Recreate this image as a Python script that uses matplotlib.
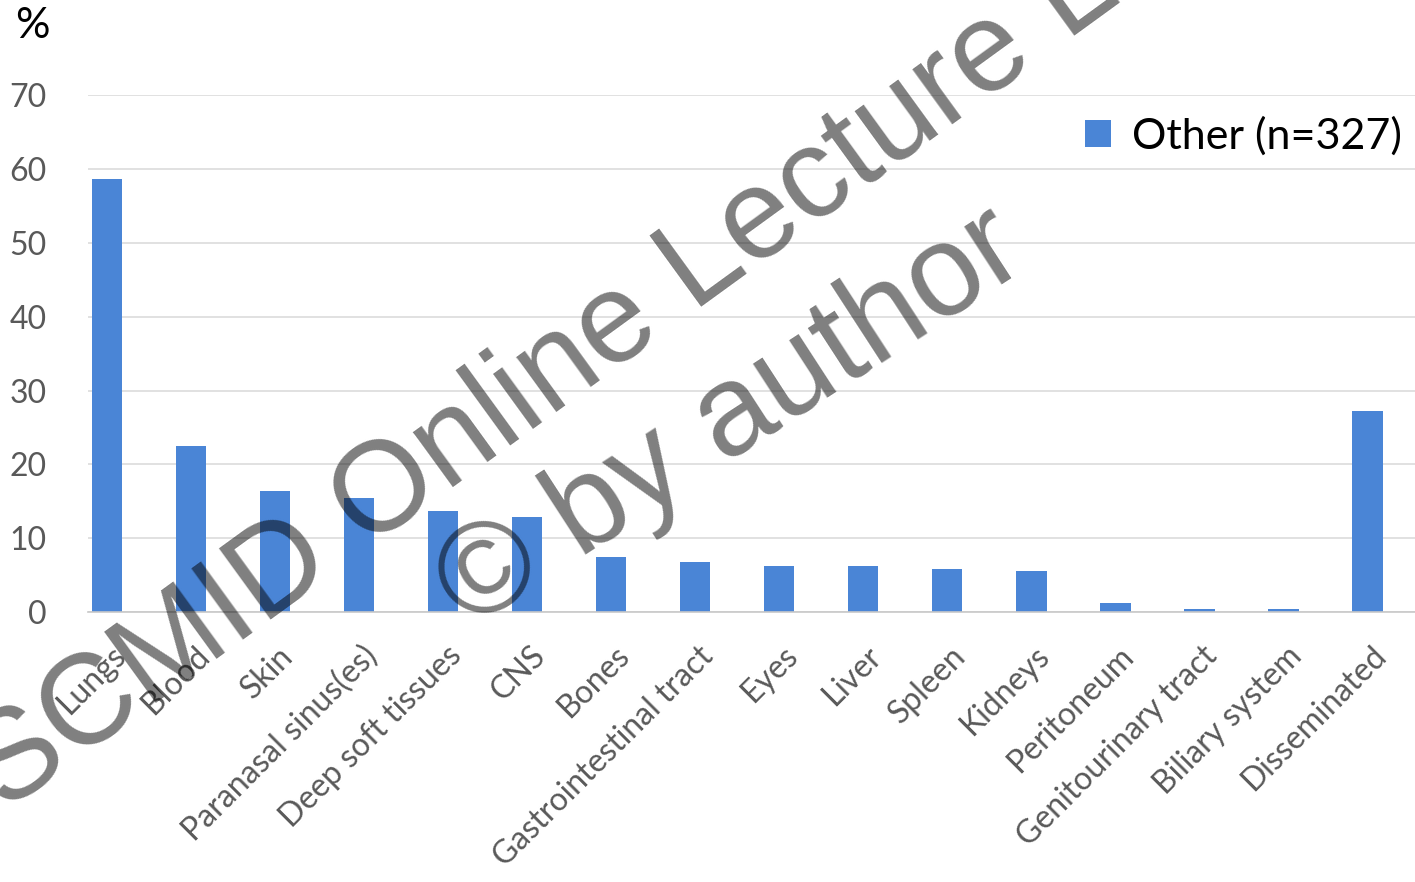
import matplotlib.pyplot as plt
import matplotlib.transforms as mtransforms
import numpy as np

sites = [
    "Lungs", "Blood", "Skin", "Paranasal sinus(es)", "Deep soft tissues",
    "CNS", "Bones", "Gastrointestinal tract", "Eyes", "Liver", "Spleen",
    "Kidneys", "Peritoneum", "Genitourinary tract", "Biliary system",
    "Disseminated",
]
other_pct = [58.7, 22.5, 16.4, 15.4, 13.7, 12.9, 7.4, 6.8, 6.2, 6.2, 5.8,
             5.5, 1.2, 0.4, 0.4, 27.2]
series_label = "Other (n=327)"
y_ticks = [0, 10, 20, 30, 40, 50, 60, 70]

BAR = "#4a85d6"
GRID = "#d9d9d9"
TICK = "#595959"
FONT = "Lato"

fig = plt.figure(figsize=(14.15, 8.82), dpi=100)
ax = fig.add_axes([0.0622, 0.306, 0.938, 0.586])

x = np.arange(len(sites))
ax.bar(x, other_pct, width=0.36, color=BAR, label=series_label, zorder=2)

ax.set_xlim(-0.23, 15.57)
ax.set_ylim(0, 70)
ax.set_yticks(y_ticks)
ax.set_yticklabels([str(v) for v in y_ticks], fontsize=23, color=TICK,
                   family=FONT)
ax.tick_params(axis="y", length=0, pad=30)
ax.tick_params(axis="x", length=0, pad=4)
ax.grid(axis="y", color=GRID, linewidth=1.1, zorder=0)
for s in ["top", "right", "left"]:
    ax.spines[s].set_visible(False)
ax.spines["bottom"].set_color("#c8c8c8")
ax.spines["bottom"].set_linewidth(1.2)

ax.set_xticks(x)
ax.set_xticklabels(sites, rotation=45, ha="right", rotation_mode="anchor",
                   fontsize=23, color=TICK, family=FONT)
shift = mtransforms.ScaledTranslation(0.03, -0.23, fig.dpi_scale_trans)
for lab in ax.get_xticklabels():
    lab.set_transform(lab.get_transform() + shift)

ax.legend(loc="upper right", bbox_to_anchor=(1.0, 0.984), frameon=False,
          prop={"family": FONT, "size": 31}, handlelength=0.6,
          handleheight=0.6, handletextpad=0.5, borderaxespad=0.0,
          borderpad=0.3)

fig.text(0.0106, 0.9705, "%", fontsize=31, family=FONT, color="black",
         ha="left", va="center")

# overlay text
fig.text(0.385, 0.569, "SCMID Online Lecture L", fontsize=92,
         family="Liberation Sans", color="black", alpha=0.5, rotation=36,
         rotation_mode="anchor", ha="center", va="center")
fig.text(0.517, 0.524, "© by author", fontsize=93,
         family="Liberation Sans", color="black", alpha=0.5, rotation=33,
         rotation_mode="anchor", ha="center", va="center")

fig.savefig("out.png", dpi=100)
